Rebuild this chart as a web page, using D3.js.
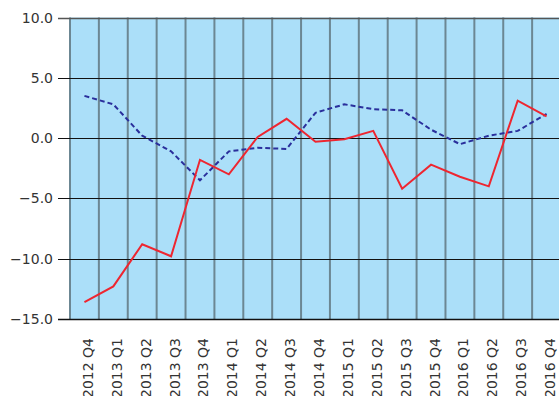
<!DOCTYPE html>
<html>
<head>
<meta charset="utf-8">
<script src="https://cdn.jsdelivr.net/npm/d3@7"></script>
<style>
  body { margin: 0; background: #fff; }
  svg { display: block; }
  text { font-family: "DejaVu Sans", sans-serif; font-size: 14px; fill: #333; }
</style>
</head>
<body>
<div id="chart"></div>
<script>
// quarters on the x axis
var quarters = ["2012 Q4", "2013 Q1", "2013 Q2", "2013 Q3", "2013 Q4",
  "2014 Q1", "2014 Q2", "2014 Q3", "2014 Q4", "2015 Q1", "2015 Q2",
  "2015 Q3", "2015 Q4", "2016 Q1", "2016 Q2", "2016 Q3", "2016 Q4"];

// solid red series
var redSeries = [-13.6, -12.3, -8.8, -9.8, -1.8, -3.0, 0.1, 1.6, -0.3, -0.1,
  0.6, -4.2, -2.2, -3.2, -4.0, 3.1, 1.8];

// dashed blue series
var blueSeries = [3.5, 2.8, 0.2, -1.1, -3.5, -1.1, -0.8, -0.9, 2.1, 2.8,
  2.4, 2.3, 0.7, -0.5, 0.2, 0.6, 2.0];

var yTicks = [10, 5, 0, -5, -10, -15];

var width = 559, height = 396;
var plotLeft = 70, plotTop = 17.5, plotW = 491, plotH = 301.5;

var svg = d3.select("#chart").append("svg")
  .attr("width", width)
  .attr("height", height);

var x = d3.scaleBand()
  .domain(quarters)
  .range([plotLeft, plotLeft + plotW])
  .padding(0);

var y = d3.scaleLinear()
  .domain([-15, 10])
  .range([plotTop + plotH, plotTop]);

// background
svg.append("rect")
  .attr("x", plotLeft)
  .attr("y", plotTop)
  .attr("width", plotW)
  .attr("height", plotH)
  .attr("fill", "#abdff9");

// vertical gridlines at band edges
svg.append("g").selectAll("line")
  .data(quarters)
  .enter().append("line")
  .attr("x1", function(d) { return x(d); })
  .attr("x2", function(d) { return x(d); })
  .attr("y1", plotTop)
  .attr("y2", plotTop + plotH)
  .attr("stroke", "#6c8793")
  .attr("stroke-width", 2);

// horizontal gridlines + ticks
svg.append("g").selectAll("line")
  .data(yTicks)
  .enter().append("line")
  .attr("x1", plotLeft - 12)
  .attr("x2", width)
  .attr("y1", function(d) { return Math.round(y(d)) + 0.5; })
  .attr("y2", function(d) { return Math.round(y(d)) + 0.5; })
  .attr("stroke", function(d) { return d == 10 ? "#555" : "#111"; })
  .attr("stroke-width", function(d) { return (d == 10 || d == -15) ? 1.6 : 1; });

// y labels
svg.append("g").selectAll("text")
  .data(yTicks)
  .enter().append("text")
  .attr("x", plotLeft - 17)
  .attr("y", function(d) { return y(d); })
  .attr("dy", "0.36em")
  .attr("text-anchor", "end")
  .text(function(d) { return d3.format(".1f")(d); });

// x labels, rotated
svg.append("g").selectAll("text")
  .data(quarters)
  .enter().append("text")
  .attr("transform", function(d) {
    return "translate(" + (x(d) + x.bandwidth() / 2 + 8.5) + ",338) rotate(-90)";
  })
  .attr("text-anchor", "end")
  .text(function(d) { return d; });

var line = d3.line()
  .x(function(d, i) { return x(quarters[i]) + x.bandwidth() / 2; })
  .y(function(d) { return y(d); });

svg.append("path")
  .datum(blueSeries)
  .attr("d", line)
  .attr("fill", "none")
  .attr("stroke", "#2a2f9c")
  .attr("stroke-width", 2)
  .attr("stroke-dasharray", "5,3");

svg.append("path")
  .datum(redSeries)
  .attr("d", line)
  .attr("fill", "none")
  .attr("stroke", "#ee2630")
  .attr("stroke-width", 2);
</script>
</body>
</html>
